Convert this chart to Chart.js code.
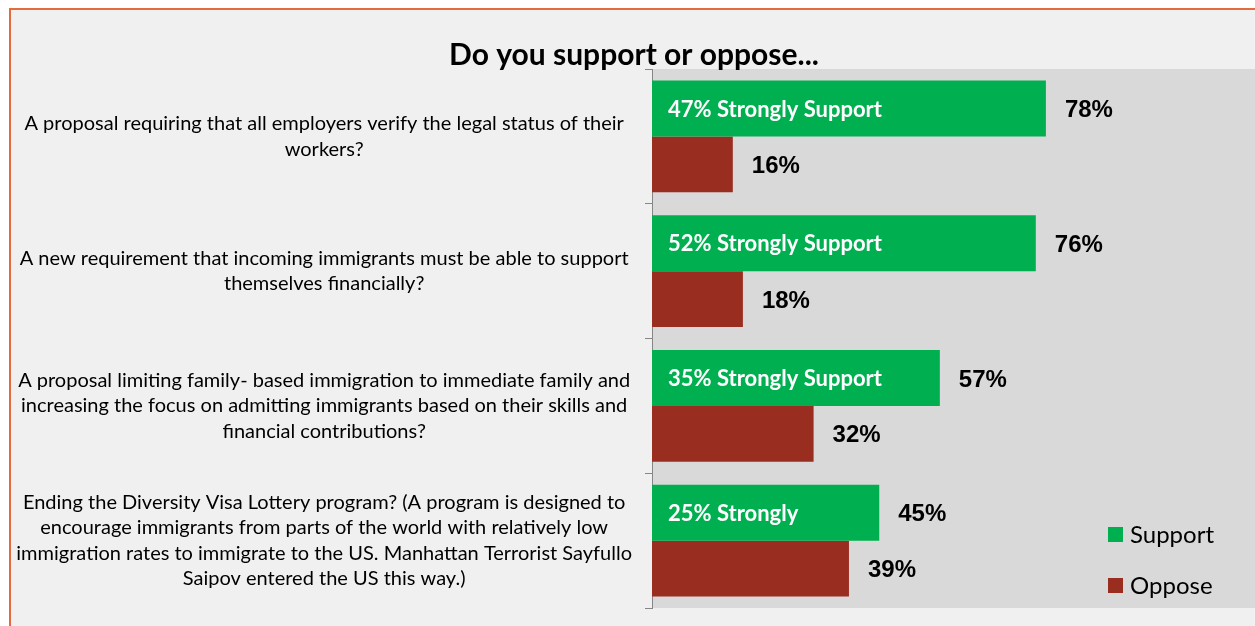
<!DOCTYPE html>
<html>
<head>
<meta charset="utf-8">
<script src="https://cdn.jsdelivr.net/npm/chart.js@4/dist/chart.umd.min.js"></script>
<style>
  html, body { margin: 0; padding: 0; background: #fff; overflow: hidden; }
  #frame {
    position: absolute; left: 9px; top: 8px; width: 1300px; height: 700px;
    background: #f0f0f0; border-top: 2px solid #e36b3d; border-left: 2px solid #e36b3d;
  }
  #Chart { position: absolute; left: 0; top: 0; }
</style>
</head>
<body>
<div id="frame"></div>
<canvas id="Chart" width="1262" height="626"></canvas>
<script>
let questions = [
    ['A proposal requiring that all employers verify the legal status of their', 'workers?'],
    ['A new requirement that incoming immigrants must be able to support', 'themselves financially?'],
    ['A proposal limiting family- based immigration to immediate family and', 'increasing the focus on admitting immigrants based on their skills and', 'financial contributions?'],
    ['Ending the Diversity Visa Lottery program? (A program is designed to', 'encourage immigrants from parts of the world with relatively low', 'immigration rates to immigrate to the US. Manhattan Terrorist Sayfullo', 'Saipov entered the US this way.)']
];
let support = [78, 76, 57, 45];
let oppose = [16, 18, 32, 39];
let strongLabels = ['47% Strongly Support', '52% Strongly Support', '35% Strongly Support', '25% Strongly'];

let green = '#00b050';
let red = '#992d1f';

// gray box behind the bars
const plotBg = {
    id: 'plotBg',
    beforeDraw(chart) {
        const { ctx, chartArea: a } = chart;
        ctx.save();
        ctx.fillStyle = '#d9d9d9';
        ctx.fillRect(a.left, a.top, a.right - a.left, a.bottom - a.top);
        ctx.restore();
    }
};

// value labels + "strongly support" text inside green bars
const barLabels = {
    id: 'barLabels',
    afterDatasetsDraw(chart) {
        const ctx = chart.ctx;
        ctx.save();
        ctx.textBaseline = 'middle';
        chart.data.datasets.forEach((ds, i) => {
            chart.getDatasetMeta(i).data.forEach((bar, j) => {
                ctx.fillStyle = '#000';
                ctx.textAlign = 'left';
                ctx.font = 'bold 24px "Liberation Sans", Arial';
                ctx.fillText(ds.data[j] + '%', bar.x + 19, bar.y + 2);
                if (i === 0) {
                    ctx.fillStyle = '#fff';
                    ctx.font = 'bold 22px Lato';
                    ctx.fillText(strongLabels[j], bar.base + 16, bar.y + 1);
                }
            });
        });
        ctx.restore();
    }
};

// legend in the lower right corner of the plot
const cornerLegend = {
    id: 'cornerLegend',
    afterDraw(chart) {
        const { ctx, chartArea: a } = chart;
        ctx.save();
        ctx.font = '24px Lato';
        ctx.textBaseline = 'middle';
        ctx.textAlign = 'left';
        chart.data.datasets.forEach((ds, i) => {
            let y = a.bottom - 74 + i * 51;
            ctx.fillStyle = ds.backgroundColor;
            ctx.fillRect(a.right - 150, y - 7, 15, 15);
            ctx.fillStyle = '#000';
            ctx.fillText(ds.label, a.right - 128, y + 1);
        });
        ctx.restore();
    }
};

let ctx = document.getElementById('Chart').getContext('2d');
new Chart(ctx, {
    type: 'bar',
    data: {
        labels: questions,
        datasets: [
            { label: 'Support', data: support, backgroundColor: green },
            { label: 'Oppose', data: oppose, backgroundColor: red }
        ]
    },
    options: {
        indexAxis: 'y',
        responsive: false,
        animation: false,
        devicePixelRatio: 1,
        categoryPercentage: 0.83,
        barPercentage: 1,
        layout: { autoPadding: false, padding: { left: 10, right: 4, bottom: 18, top: 0 } },
        plugins: {
            legend: { display: false },
            tooltip: { enabled: false },
            title: {
                display: true,
                text: 'Do you support or oppose...',
                color: '#000',
                font: { family: 'Lato', size: 30, weight: 'bold', lineHeight: 0.9 },
                padding: { top: 42, bottom: 0 }
            }
        },
        scales: {
            x: { display: false, min: 0, max: 120 },
            y: {
                afterFit(scale) {
                    scale.width = 642;
                    // tall multi-line labels shouldn't squeeze the plot
                    scale.paddingTop = 0;
                    scale.paddingBottom = 0;
                },
                border: { display: true, color: '#868686', width: 1 },
                grid: { drawOnChartArea: false, drawTicks: true, tickLength: 7, color: '#868686' },
                ticks: {
                    crossAlign: 'center',
                    padding: 13,
                    color: '#000',
                    font: { family: 'Lato', size: 20, lineHeight: 1.27 }
                }
            }
        }
    },
    plugins: [plotBg, barLabels, cornerLegend]
});
</script>
</body>
</html>
